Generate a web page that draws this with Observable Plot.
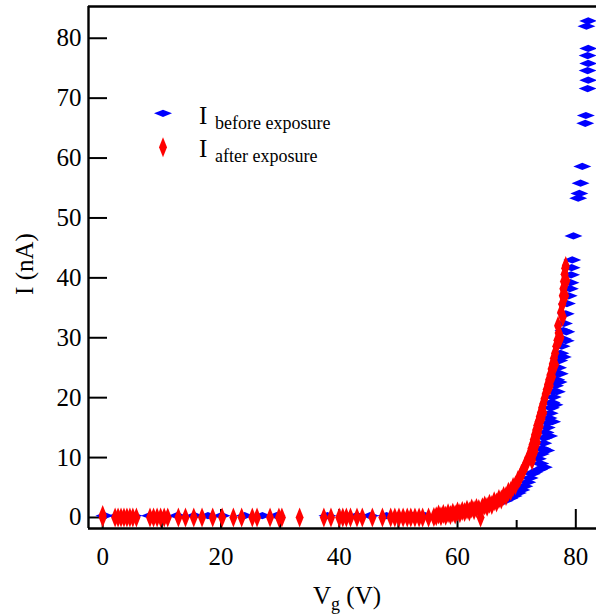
<!DOCTYPE html>
<html>
<head>
<meta charset="utf-8">
<script src="https://cdn.jsdelivr.net/npm/d3@7"></script>
<script src="https://cdn.jsdelivr.net/npm/@observablehq/plot@0.6"></script>
<style>
  html, body { margin: 0; padding: 0; background: #fff; }
  #chart { width: 596px; height: 615px; }
</style>
</head>
<body>
<div id="chart"></div>
<script>
// ---- data ----
const xTicksMajor = [0, 20, 40, 60, 80];
const xTicksMinor = [10, 30, 50, 70];
const yTicks = [0, 10, 20, 30, 40, 50, 60, 70, 80];

// I before exposure: gate voltage (V), current (nA)
const beforeV = [0.3, 2.5, 4.5, 5.2, 8, 10, 12.6, 15.5, 17.8, 20.1, 24, 27, 29.4, 38, 41.3, 43, 45.2, 48, 50, 52.4, 54.5, 56.5, 58.5,
  60, 61, 62, 63, 64, 65, 66, 67, 68, 68.8, 69.5, 70.2, 70.8, 71.3, 71.8, 72.2, 72.6, 73.0, 73.8, 74.0, 73.6, 74.1, 74.3, 74.5,
  74.7, 74.9, 75.1, 75.3, 75.4, 75.6, 75.8, 75.9, 76.1, 76.3, 76.5, 76.7, 76.9, 77.0, 77.2, 77.4, 77.6, 77.8, 77.9, 78.0, 78.3,
  78.5, 78.8, 79.0, 79.1, 79.2, 79.3, 79.4, 79.6, 80.4, 80.6, 80.8, 81.1, 81.6, 81.7, 82.0, 82.1, 82.0, 82.1, 82.0, 82.1, 81.8, 82.1,
  74.6, 75.0, 75.5, 76.0, 76.4, 76.8, 77.1, 77.3, 77.8, 78.3, 78.4];
const beforeI = [0.3, 0.3, 0.3, 0.3, 0.3, 0.3, 0.3, 0.3, 0.3, 0.3, 0.3, 0.3, 0.3, 0.3, 0.3, 0.3, 0.3, 0.3, 0.3, 0.3, 0.3, 0.3, 0.4,
  0.6, 0.8, 1.0, 1.2, 1.4, 1.7, 2.0, 2.4, 2.8, 3.2, 3.6, 4.1, 4.6, 5.2, 5.9, 6.6, 7.3, 7.6, 8.0, 9.0, 9.8, 10.6, 11.5, 12.4,
  13.3, 14.2, 15.0, 15.8, 16.6, 17.4, 18.3, 19.2, 20.1, 21.0, 22.0, 23.0, 24.0, 25.0, 26.2, 27.4, 28.6, 29.8, 31.2, 32.4, 34.0,
  35.7, 37.0, 38.2, 39.2, 40.5, 41.7, 43.0, 47.0, 53.3, 54.1, 55.8, 58.6, 65.8, 67.1, 71.6, 73.0, 74.6, 75.8, 77.1, 78.3, 82.0, 82.9,
  8.4, 11.2, 13.6, 16.0, 18.8, 21.0, 22.6, 24.0, 26.8, 29.5, 31.0];

// I after exposure
const afterV = [0, 0, 2.1, 2.6, 3.1, 3.6, 4.1, 4.6, 5.1, 5.7, 8.0, 8.6, 9.2, 9.8, 10.4, 11.0, 12.8, 14.0, 15.4, 16.8, 18.6, 20.2,
  22.1, 23.5, 25.3, 26.1, 28.3, 29.8, 30.3, 33.3, 37.4, 38.6, 40.0, 40.6, 41.2, 41.9, 43.0, 43.9, 45.6, 47.3, 48.7, 49.4, 50.1,
  50.8, 51.5, 52.1, 52.8, 53.5, 54.1, 55.1, 56.0,
  56.4, 56.8, 57.2, 57.6, 58.0, 58.4, 58.8, 59.2, 59.6, 60.0, 60.4, 60.8, 61.2, 61.6, 62.0, 62.4, 62.8, 63.2, 63.6, 63.9,
  64.2, 64.6, 65.0, 65.4, 65.8, 66.2, 66.6, 67.0, 67.4, 67.8, 68.2, 68.6, 69.0, 69.4, 69.8, 70.2, 70.5, 70.8, 71.1, 71.4,
  71.7, 72.0, 72.3, 72.5, 72.7, 72.9, 73.1, 73.3, 73.5, 73.7, 73.9, 74.1, 74.3, 74.5, 74.7, 74.9, 75.1, 75.3, 75.5, 75.7,
  75.9, 76.1, 76.3, 76.5, 76.7, 76.9, 77.1, 77.0, 77.5, 77.7, 77.8, 77.9, 78.0, 78.1, 78.2, 78.3,
  72.6, 73.0, 73.4, 73.6, 73.9, 74.2, 74.5, 75.6, 76.0, 76.5, 77.4, 77.8, 78.2, 78.4];
const afterI = [0, 0.4, 0, 0, 0, 0, 0, 0, 0, 0, 0, 0, 0, 0, 0, 0, 0, 0, 0, 0, 0, 0,
  0, 0, 0, 0, 0, 0, 0, 0, 0, 0, 0, 0, 0, 0, 0, 0, 0, 0, 0, 0, 0,
  0, 0, 0, 0, 0, 0, 0, 0.1,
  0.2, 0.5, 0.2, 0.6, 0.3, 0.7, 0.4, 0.8, 0.5, 1.0, 0.7, 1.1, 0.9, 1.3, 1.0, 1.5, 1.2, 1.6, 1.4, 0.0,
  1.7, 2.0, 1.8, 2.3, 2.1, 2.7, 2.5, 3.1, 3.0, 3.6, 3.6, 4.3, 4.4, 5.1, 5.4, 6.2, 6.6, 7.3, 7.8, 8.6,
  9.1, 10.0, 10.6, 11.5, 12.2, 13.0, 13.8, 14.6, 15.4, 16.0, 16.8, 17.5, 18.3, 19.0, 19.8, 20.6, 21.4, 22.2, 23.0, 23.8,
  24.8, 25.6, 26.6, 27.4, 28.6, 29.6, 30.8, 32.0, 34.2, 35.6, 37.0, 38.2, 39.4, 40.6, 41.6, 42.0,
  9.5, 11.0, 12.5, 14.0, 15.2, 16.5, 17.5, 22.0, 23.5, 25.5, 30.0, 33.5, 37.0, 39.5];

const before = beforeV.map((v, k) => ({v, i: beforeI[k]}));
const after = afterV.map((v, k) => ({v, i: afterI[k]}));

// ---- symbols ----
const hDiamond = {draw(ctx) { ctx.moveTo(-9, 0); ctx.lineTo(0, -3.6); ctx.lineTo(9, 0); ctx.lineTo(0, 3.6); ctx.closePath(); }};
const vDiamond = {draw(ctx) { ctx.moveTo(-4, 0); ctx.lineTo(0, -10); ctx.lineTo(4, 0); ctx.lineTo(0, 10); ctx.closePath(); }};

const W = 596, H = 615, ML = 88, MT = 6, MB = 87, MR = 0;
const PW = W - ML - MR, PH = H - MT - MB;
const xDomain = [-2.4, 83.5], yDomain = [-1.84, 85.3];
const blue = "#0000ff", red = "#ff0000";
const font = "'Liberation Serif', 'Times New Roman', serif";

const chart = Plot.plot({
  width: W, height: H,
  marginLeft: ML, marginRight: MR, marginTop: MT, marginBottom: MB,
  style: {fontFamily: font, fontSize: "25px", background: "#fff", color: "#000"},
  x: {domain: xDomain},
  y: {domain: yDomain},
  marks: [
    Plot.ruleX(xTicksMajor, {insetTop: PH - 19, stroke: "#000", strokeWidth: 2}),
    Plot.ruleX(xTicksMinor, {insetTop: PH - 8, stroke: "#000", strokeWidth: 2}),
    Plot.ruleY(yTicks, {insetRight: PW - 19, stroke: "#000", strokeWidth: 2}),
    Plot.axisX({ticks: xTicksMajor, tickSize: 0, tickPadding: 19, label: null, fill: "#000", fontFamily: font, fontSize: 25}),
    Plot.axisY({ticks: yTicks, tickSize: 0, tickPadding: 7, label: null, fill: "#000", fontFamily: font, fontSize: 25}),
    Plot.dot(before, {x: "v", y: "i", symbol: hDiamond, fill: blue, stroke: "none"}),
    Plot.dot(after, {x: "v", y: "i", symbol: vDiamond, fill: red, stroke: "none"}),
    Plot.ruleX([xDomain[0]], {stroke: "#000", strokeWidth: 2.4}),
    Plot.ruleY([yDomain[0]], {stroke: "#000", strokeWidth: 2.4}),
    Plot.ruleY([yDomain[1]], {stroke: "#000", strokeWidth: 2.4})
  ]
});
document.getElementById("chart").appendChild(chart);

// ---- titles & legend ----
const svg = d3.select(chart);
svg.append("text")
  .attr("transform", "translate(33,264) rotate(-90)")
  .attr("text-anchor", "middle").attr("font-family", font).attr("font-size", 25).attr("fill", "#000")
  .text("I (nA)");
const xt = svg.append("text").attr("x", 313).attr("y", 604).attr("text-anchor", "start")
  .attr("font-family", font).attr("font-size", 25).attr("fill", "#000");
xt.append("tspan").text("V");
xt.append("tspan").attr("font-size", 18).attr("dy", 6).text("g");
xt.append("tspan").attr("dy", -6).text(" (V)");

const legend = [
  {label: "before exposure", color: blue, d: "M-9,0L0,-3.6L9,0L0,3.6Z", cy: 113.3, base: 124},
  {label: "after exposure", color: red, d: "M-4,0L0,-10L4,0L0,10Z", cy: 147.3, base: 157}
];
for (const l of legend) {
  svg.append("path").attr("d", l.d).attr("fill", l.color).attr("transform", `translate(163,${l.cy})`);
  const t = svg.append("text").attr("x", 199).attr("y", l.base).attr("text-anchor", "start")
    .attr("font-family", font).attr("font-size", 25).attr("fill", "#000");
  t.append("tspan").text("I");
  t.append("tspan").attr("x", 215).attr("dy", 5).attr("font-size", 18).text(l.label);
}
</script>
</body>
</html>
